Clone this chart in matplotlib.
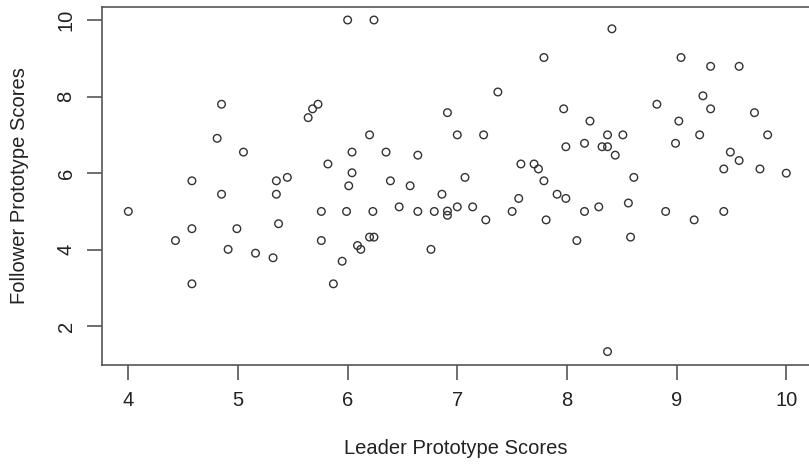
import matplotlib
matplotlib.use("Agg")
import matplotlib.pyplot as plt

# scores
leader = [
    6.00, 6.24, 4.85, 5.73, 5.68, 5.64, 4.81, 5.05, 5.82, 4.58,
    5.35, 5.45, 4.85, 5.35, 4.00, 5.76, 5.99, 4.58, 4.99, 5.37,
    4.43, 5.76, 4.91, 5.16, 5.32, 5.95, 4.58, 5.87, 7.79, 7.37,
    7.97, 6.91, 6.20, 7.00, 7.24, 7.99, 6.04, 6.35, 6.64, 7.58,
    7.70, 7.74, 6.04, 7.79, 6.01, 6.39, 6.57, 7.07, 6.86, 7.56,
    7.91, 7.99, 6.23, 6.47, 6.64, 6.79, 6.91, 6.91, 7.00, 7.14,
    7.50, 7.26, 7.81, 6.20, 6.24, 6.09, 6.12, 6.76, 8.09, 8.41,
    9.04, 9.31, 9.57, 9.24, 8.82, 9.31, 8.21, 9.02, 9.71, 8.37,
    8.51, 9.21, 9.83, 8.16, 8.32, 8.37, 8.99, 8.44, 9.49, 9.57,
    9.43, 9.76, 10.00, 8.61, 8.16, 8.29, 8.56, 8.90, 9.43, 9.16,
    8.58, 8.37,
]
follower = [
    10.00, 10.00, 7.80, 7.80, 7.68, 7.45, 6.91, 6.55, 6.24, 5.80,
    5.80, 5.89, 5.45, 5.45, 5.00, 5.00, 5.00, 4.55, 4.55, 4.68,
    4.24, 4.24, 4.01, 3.91, 3.79, 3.70, 3.11, 3.11, 9.02, 8.12,
    7.68, 7.58, 7.00, 7.00, 7.00, 6.69, 6.55, 6.55, 6.47, 6.24,
    6.24, 6.11, 6.01, 5.80, 5.67, 5.80, 5.67, 5.89, 5.45, 5.34,
    5.45, 5.34, 5.00, 5.12, 5.00, 5.00, 5.01, 4.90, 5.12, 5.12,
    5.00, 4.78, 4.78, 4.33, 4.33, 4.11, 4.01, 4.01, 4.24, 9.77,
    9.02, 8.79, 8.79, 8.02, 7.80, 7.68, 7.36, 7.36, 7.58, 7.00,
    7.00, 7.00, 7.00, 6.78, 6.69, 6.69, 6.78, 6.47, 6.55, 6.33,
    6.11, 6.11, 6.00, 5.89, 5.00, 5.12, 5.22, 5.00, 5.00, 4.78,
    4.33, 1.34,
]

plt.rcParams['font.family'] = ['Liberation Sans', 'DejaVu Sans']
txt = "#222222"
line = "#555555"

fig = plt.figure(figsize=(8.09, 4.66), dpi=100)
W, H = 809, 466
# plot region runs past the right edge like the reference crop
ax = fig.add_axes([102/W, (H-365)/H, (812.6-102)/W, (365-6.6)/H])
ax.scatter(leader, follower, s=30, facecolors="none", edgecolors="#333333", linewidths=1.0)

ax.set_xlim(3.76, 10.24)
ax.set_ylim(0.99, 10.35)
ax.set_xticks([4, 5, 6, 7, 8, 9, 10])
ax.set_yticks([2, 4, 6, 8, 10])
ax.tick_params(direction="out", length=11, width=1.2, color=line,
               labelsize=14.5, labelcolor=txt, pad=8)
for lbl in ax.get_yticklabels():
    lbl.set_rotation(90)
    lbl.set_va("center")
for s in ["left", "bottom", "top"]:
    ax.spines[s].set_color(line)
    ax.spines[s].set_linewidth(1.2)
ax.spines["right"].set_visible(False)

fig.text(456/W, 1 - 448/H, "Leader Prototype Scores", ha="center", va="center",
         fontsize=14.5, color=txt)
fig.text(20/W, 1 - 186/H, "Follower Prototype Scores", ha="center", va="center",
         rotation=90, fontsize=14.5, color=txt)

fig.savefig("out.png", dpi=100)
